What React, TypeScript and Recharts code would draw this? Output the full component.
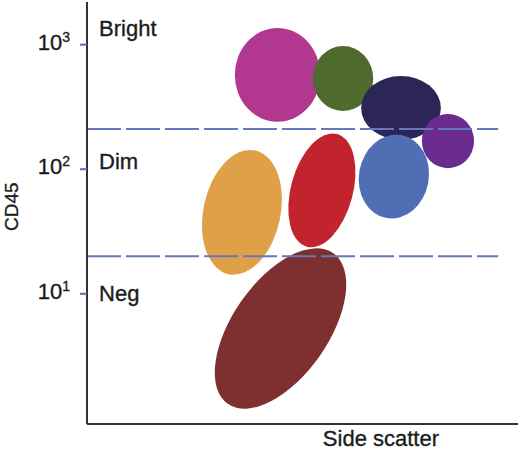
import React from 'react';
import {
  ScatterChart,
  Scatter,
  XAxis,
  YAxis,
  ReferenceArea,
  ReferenceLine,
} from 'recharts';

const FONT = '"Liberation Sans", Arial, Helvetica, sans-serif';
const TEXT = '#1c1c1c';
const TEXT_STROKE = { stroke: TEXT, strokeWidth: 0.35 };

// cell populations: colour, side scatter span, CD45 span (unrotated box), tilt in degrees
const popColors = ['#B1378F', '#4F6A2F', '#2B2656', '#6A2D8F', '#4F6EB4', '#E0A048', '#C2242D', '#7E2F30'];
const popSscMin = [343, 524, 636, 777, 631, 270, 473, 338];
const popSscMax = [541, 664, 821, 898, 793, 449, 617, 560];
const popCd45Min = [240, 293, 172, 102, 40, 14, 23, 0.96];
const popCd45Max = [1360, 975, 560, 278, 190, 145, 199, 28.8];
const popTilt = [0, 0, 0, 0, 10, 12, 15, 35];

// gate thresholds (dashed lines)
const gateLevels = [210, 20];
const gateEnd = 954;

const regionNames = ['Bright', 'Dim', 'Neg'];
const regionCd45 = [1360, 117, 10.2];
const regionSsc = 28;

const yTicks = [10, 100, 1000];

const regionData = regionNames.map((name, i) => ({ x: regionSsc, y: regionCd45[i], name }));

const Ellipse = (props: any) => {
  const { x, y, width, height, fill, tilt } = props;
  const cx = x + width / 2;
  const cy = y + height / 2;
  return (
    <ellipse
      cx={cx}
      cy={cy}
      rx={Math.abs(width) / 2}
      ry={Math.abs(height) / 2}
      fill={fill}
      transform={`rotate(${tilt} ${cx} ${cy})`}
    />
  );
};

const PowerTick = (props: any) => {
  const { x, y, payload } = props;
  const exp = Math.round(Math.log10(payload.value));
  return (
    <text x={x - 8} y={y + 5} textAnchor="end" fontFamily={FONT} fontSize={22} fill={TEXT} {...TEXT_STROKE}>
      10
      <tspan dy={-8} fontSize={14}>{exp}</tspan>
    </text>
  );
};

const RegionLabel = (props: any) => {
  const { cx, cy, payload } = props;
  return (
    <text x={cx} y={cy + 8} textAnchor="start" fontFamily={FONT} fontSize={22} fill={TEXT} {...TEXT_STROKE}>
      {payload.name}
    </text>
  );
};

export default function App() {
  return (
    <div style={{ position: 'absolute', left: 0, top: 0 }}>
      <ScatterChart width={520} height={451} margin={{ top: 2, right: 2, bottom: 0, left: 0 }}>
        <XAxis
          type="number"
          dataKey="x"
          domain={[0, 1000]}
          allowDataOverflow
          tick={false}
          tickLine={false}
          height={27}
          axisLine={{ stroke: '#333', strokeWidth: 2 }}
          label={{
            content: (p: any) => {
              const vb = p.viewBox;
              return (
                <text
                  x={vb.x + vb.width * 0.682}
                  y={vb.y + vb.height - 5}
                  textAnchor="middle"
                  fontFamily={FONT}
                  fontSize={22}
                  fill={TEXT}
                  {...TEXT_STROKE}
                >
                  Side scatter
                </text>
              );
            },
          }}
        />
        <YAxis
          type="number"
          dataKey="y"
          scale="log"
          domain={[0.9, 2200]}
          allowDataOverflow
          ticks={yTicks}
          width={87}
          tickSize={7}
          tickMargin={2}
          tickLine={{ stroke: '#5A6DB5', strokeWidth: 2 }}
          axisLine={{ stroke: '#333', strokeWidth: 2 }}
          tick={<PowerTick />}
          label={{
            content: (p: any) => {
              const vb = p.viewBox;
              const cy = vb.y + vb.height * 0.485;
              return (
                <text
                  x={12}
                  y={cy}
                  transform={`rotate(-90 12 ${cy})`}
                  textAnchor="middle"
                  dominantBaseline="central"
                  fontFamily={FONT}
                  fontSize={19}
                  fill={TEXT}
                  {...TEXT_STROKE}
                >
                  CD45
                </text>
              );
            },
          }}
        />
        {popColors.map((color, i) => (
          <ReferenceArea
            key={`pop-${i}`}
            x1={popSscMin[i]}
            x2={popSscMax[i]}
            y1={popCd45Min[i]}
            y2={popCd45Max[i]}
            fill={color}
            fillOpacity={1}
            stroke="none"
            ifOverflow="visible"
            shape={(p: any) => <Ellipse {...p} fill={color} tilt={popTilt[i]} />}
          />
        ))}
        {gateLevels.map((level, i) => (
          <ReferenceLine
            key={`gate-${i}`}
            segment={[
              { x: 0, y: level },
              { x: gateEnd, y: level },
            ]}
            stroke="#6677BB"
            strokeWidth={2}
            strokeDasharray="34 5"
            ifOverflow="visible"
          />
        ))}
        <Scatter data={regionData} isAnimationActive={false} shape={<RegionLabel />} />
      </ScatterChart>
    </div>
  );
}
